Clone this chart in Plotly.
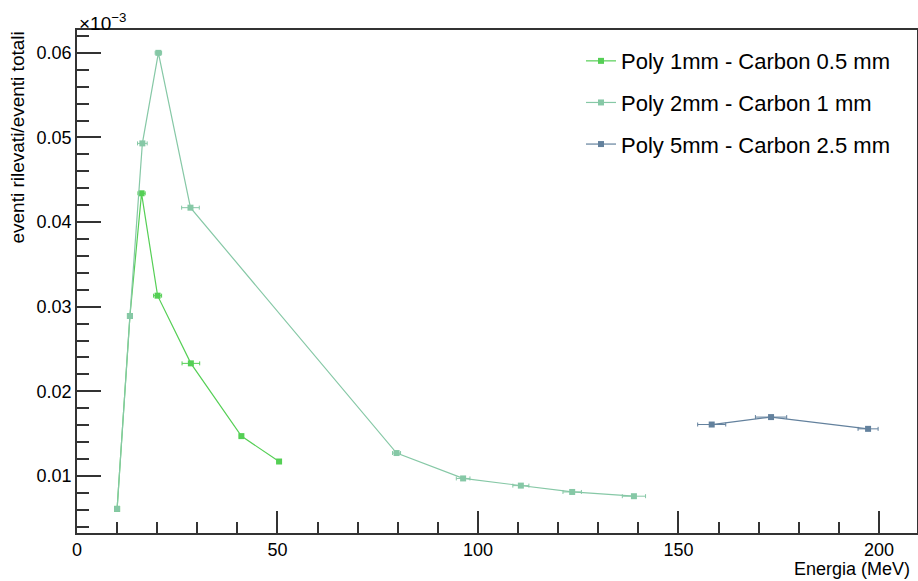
import plotly.graph_objects as go

# Data (y in units of 1e-3)
names = ["Poly 1mm - Carbon 0.5 mm", "Poly 2mm - Carbon 1 mm", "Poly 5mm - Carbon 2.5 mm"]

x1 = [10.0, 13.2, 16.1, 20.1, 28.4, 41.0, 50.4]
y1 = [0.0061, 0.0289, 0.0434, 0.0313, 0.0233, 0.0147, 0.0117]
ex1 = [0.5, 0.5, 0.9, 1.0, 2.2, 0.5, 0.5]

x2 = [10.0, 13.2, 16.3, 20.3, 28.3, 79.7, 96.3, 110.7, 123.5, 138.9]
y2 = [0.0061, 0.0289, 0.0493, 0.0600, 0.0417, 0.0127, 0.0097, 0.00885, 0.0081, 0.0076]
ex2 = [0.5, 0.5, 1.2, 0.8, 2.2, 1.0, 1.7, 2.0, 2.3, 2.9]

x3 = [158.3, 173.1, 197.3]
y3 = [0.01607, 0.01695, 0.01556]
ex3 = [3.5, 3.9, 2.5]

colors = ["#55cf55", "#86c8a6", "#63819d"]

fig = go.Figure()
for i, (xs, ys, exs) in enumerate([(x1, y1, ex1), (x2, y2, ex2), (x3, y3, ex3)]):
    fig.add_trace(go.Scatter(
        x=xs, y=ys, name=names[i], mode="lines+markers",
        legendgroup=str(i),
        line=dict(color=colors[i], width=1.2),
        marker=dict(symbol="square", size=6, color=colors[i]),
        error_x=dict(type="data", array=exs, visible=True, color=colors[i], thickness=1, width=2),
    ))

font_family = "Liberation Sans, Arial, sans-serif"

fig.update_layout(
    width=918, height=581,
    margin=dict(l=77, r=1, t=30, b=48, autoexpand=False),
    paper_bgcolor="white", plot_bgcolor="white",
    font=dict(family=font_family, size=18, color="black"),
    showlegend=True,
    legend=dict(x=0.60, y=0.98, xanchor="left", yanchor="top",
                font=dict(size=22), bgcolor="rgba(0,0,0,0)",
                tracegroupgap=10, itemwidth=30),
    xaxis=dict(range=[0, 209.5], tick0=0, dtick=50, ticks="inside", ticklen=22,
               tickcolor="#333", tickwidth=1.5,
               showgrid=False, zeroline=False, showline=True, mirror=True,
               linecolor="#333", linewidth=1.5,
               minor=dict(dtick=10, ticks="inside", ticklen=11, tickcolor="#333", tickwidth=1.5, showgrid=False),
               tickfont=dict(size=18)),
    yaxis=dict(range=[0.00325, 0.0627], tick0=0, dtick=0.01, tickformat=".2f",
               ticks="inside", ticklen=24, tickcolor="#333", tickwidth=1.5,
               showgrid=False, zeroline=False, showline=True, mirror=True,
               linecolor="#333", linewidth=1.5,
               minor=dict(dtick=0.002, ticks="inside", ticklen=12, tickcolor="#333", tickwidth=1.5, showgrid=False),
               tickfont=dict(size=18)),
    annotations=[
        dict(text="Energia (MeV)", xref="paper", yref="paper", x=0.994, y=-0.072,
             xanchor="right", yanchor="middle", showarrow=False, font=dict(size=18)),
        dict(text="eventi rilevati/eventi totali", xref="paper", yref="paper",
             x=-0.072, y=1.0, xanchor="center", yanchor="top", textangle=-90,
             showarrow=False, font=dict(size=19)),
        dict(text="×10<sup>−3</sup>", xref="paper", yref="paper", x=0.0, y=1.0,
             xanchor="left", yanchor="bottom", showarrow=False, font=dict(size=19), yshift=-6),
    ],
)

fig.write_html("out.html", config={"displayModeBar": False},
               post_script="document.body.style.margin='0';")
